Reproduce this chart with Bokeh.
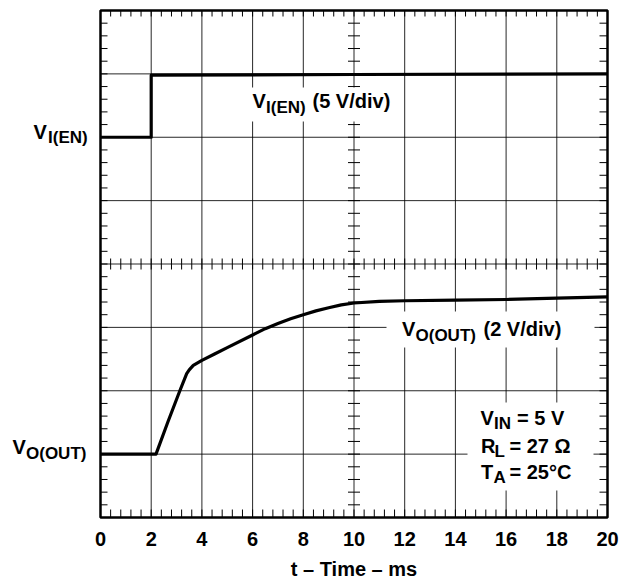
import numpy as np
from bokeh.plotting import figure
from bokeh.models import Range1d, FixedTicker, Label
from bokeh.embed import file_html
from bokeh.resources import INLINE

# ---------------- data ----------------
t_ticks = [0, 2, 4, 6, 8, 10, 12, 14, 16, 18, 20]          # ms
t_tick_labels = ["0", "2", "4", "6", "8", "10", "12", "14", "16", "18", "20"]
div_ticks = [0, 1, 2, 3, 4, 5, 6, 7, 8]

# enable input V_I(EN), 5 V/div, ground reference at division 6
en_t = [0.0, 2.0, 2.0, 10.0, 20.0]
en_v = [0.0, 0.0, 4.9, 4.95, 5.0]

# output V_O(OUT), 2 V/div, ground reference at division 1
out_t = [0.0, 2.19, 2.65, 3.13, 3.4, 3.5, 3.66, 4.0, 4.5, 5.0, 6.0, 6.5, 7.0, 7.5, 8.0,
         8.5, 9.0, 9.5, 10.0, 11.0, 12.0, 14.0, 16.0, 18.0, 20.0]
out_v = [0.0, 0.0, 1.0, 2.0, 2.54, 2.66, 2.80, 2.96, 3.16, 3.36, 3.76, 3.96, 4.12, 4.27, 4.40,
         4.52, 4.62, 4.71, 4.77, 4.82, 4.84, 4.86, 4.88, 4.92, 4.96]

en_scale, en_ground = 5.0, 6        # V/div, division of 0 V
out_scale, out_ground = 2.0, 1
t_min, t_max, n_div = 0, 20, 8

# ---------------- layout ----------------
# the whole canvas is the frame; the scope graticule occupies page x 100..607, y 10..517
W, H = 620, 580
GX0, GX1, GY0, GY1 = 100, 607, 10, 517
FONT = "Liberation Sans"


def fx(px):
    return t_min + (px - GX0) / (GX1 - GX0) * (t_max - t_min)


def fy(py):
    return (GY1 - py) / (GY1 - GY0) * n_div


y_lo, y_hi = fy(H), fy(0)
p = figure(width=W, height=H, x_range=Range1d(fx(0), fx(W)), y_range=Range1d(y_lo, y_hi),
           output_backend="svg", toolbar_location=None,
           min_border_left=0, min_border_right=0, min_border_top=0, min_border_bottom=0)
p.extra_y_ranges = {
    "en": Range1d((y_lo - en_ground) * en_scale, (y_hi - en_ground) * en_scale),
    "out": Range1d((y_lo - out_ground) * out_scale, (y_hi - out_ground) * out_scale),
}
p.background_fill_color = "white"
p.border_fill_color = "white"
p.outline_line_color = None
p.grid.visible = False
p.yaxis.visible = False

# time axis pinned to the bottom edge of the graticule (labels only)
bx = p.xaxis[0]
bx.fixed_location = 0
bx.ticker = FixedTicker(ticks=t_ticks)
bx.major_label_overrides = {t: s for t, s in zip(t_ticks, t_tick_labels)}
bx.axis_line_color = None
bx.major_tick_in = 0
bx.major_tick_out = 0
bx.minor_tick_line_color = None
bx.major_label_text_font = FONT
bx.major_label_text_font_style = "bold"
bx.major_label_text_font_size = "20px"
bx.major_label_text_color = "black"
bx.major_label_standoff = 14

# graticule lines
p.multi_line(xs=[[t, t] for t in t_ticks], ys=[[0, n_div] for _ in t_ticks],
             line_color="black", line_width=1, line_alpha=0.85)
p.multi_line(xs=[[t_min, t_max] for _ in div_ticks], ys=[[d, d] for d in div_ticks],
             line_color="black", line_width=1, line_alpha=0.85)

minor_x = [round(v, 3) for v in np.arange(t_min, t_max + 0.001, 0.4)]
minor_y = [round(v, 3) for v in np.arange(0, n_div + 0.001, 0.2)]
tick_kw = dict(line_color="black", line_width=1, length_units="screen")
# inward ticks on the four edges
p.ray(minor_x, [0] * len(minor_x), length=8, angle=np.pi / 2, **tick_kw)
p.ray(minor_x, [n_div] * len(minor_x), length=6, angle=-np.pi / 2, **tick_kw)
p.ray([t_min] * len(minor_y), minor_y, length=7, angle=0, **tick_kw)
p.ray([t_max] * len(minor_y), minor_y, length=8, angle=np.pi, **tick_kw)
# crossing ticks on the centre lines
p.scatter(minor_x, [n_div / 2] * len(minor_x), marker="dash", angle=np.pi / 2,
          size=11, line_color="black", line_width=1)
p.scatter([(t_min + t_max) / 2] * len(minor_y), minor_y, marker="dash", angle=0,
          size=12, line_color="black", line_width=1)

# white boxes behind the annotations
boxes = [(247, 397, 87, 121), (386, 594, 311, 347), (467, 593, 402, 490)]
p.quad(left=[fx(b[0]) for b in boxes], right=[fx(b[1]) for b in boxes],
       top=[fy(b[2]) for b in boxes], bottom=[fy(b[3]) for b in boxes],
       fill_color="white", line_color=None)

# traces
p.line(en_t, en_v, y_range_name="en", line_color="black", line_width=3.2, line_join="round")
p.line(out_t, out_v, y_range_name="out", line_color="black", line_width=3.2, line_join="round")

# graticule border
p.quad(left=[t_min], right=[t_max], bottom=[0], top=[n_div],
       fill_color=None, line_color="black", line_width=2.5)


def txt(px, py, s, size=20, align="left"):
    # py is the wanted baseline on the page; the label box sits ~0.45 em lower
    p.add_layout(Label(x=fx(px), y=fy(py - 0.45 * size), text=s, text_font=FONT,
                       text_font_style="bold", text_font_size=f"{size}px",
                       text_color="black", text_baseline="alphabetic", text_align=align))


# left channel labels
txt(33, 140, "V")
txt(47.5, 145, "I(EN)", 17)
txt(12, 455.5, "V")
txt(25.5, 460.5, "O(OUT)", 17)

# in-plot labels
txt(252, 109.5, "V")
txt(265.5, 114.5, "I(EN)", 17)
txt(312, 109.5, "(5 V/div)")

txt(401.5, 337.5, "V")
txt(415, 342.5, "O(OUT)", 17)
txt(483, 337.5, "(2 V/div)")

txt(480, 426, "V")
txt(493.5, 431, "IN", 17)
txt(516.5, 426, "= 5 V")
txt(480.5, 454, "R")
txt(494, 459, "L", 17)
txt(509, 454, "= 27 Ω")
txt(480.5, 480, "T")
txt(493, 485, "A", 17)
txt(509, 480, "= 25°C")

# axis title
txt(353.5, 577, "t – Time – ms", 20, align="center")

open("out.html", "w").write(file_html(p, INLINE))
